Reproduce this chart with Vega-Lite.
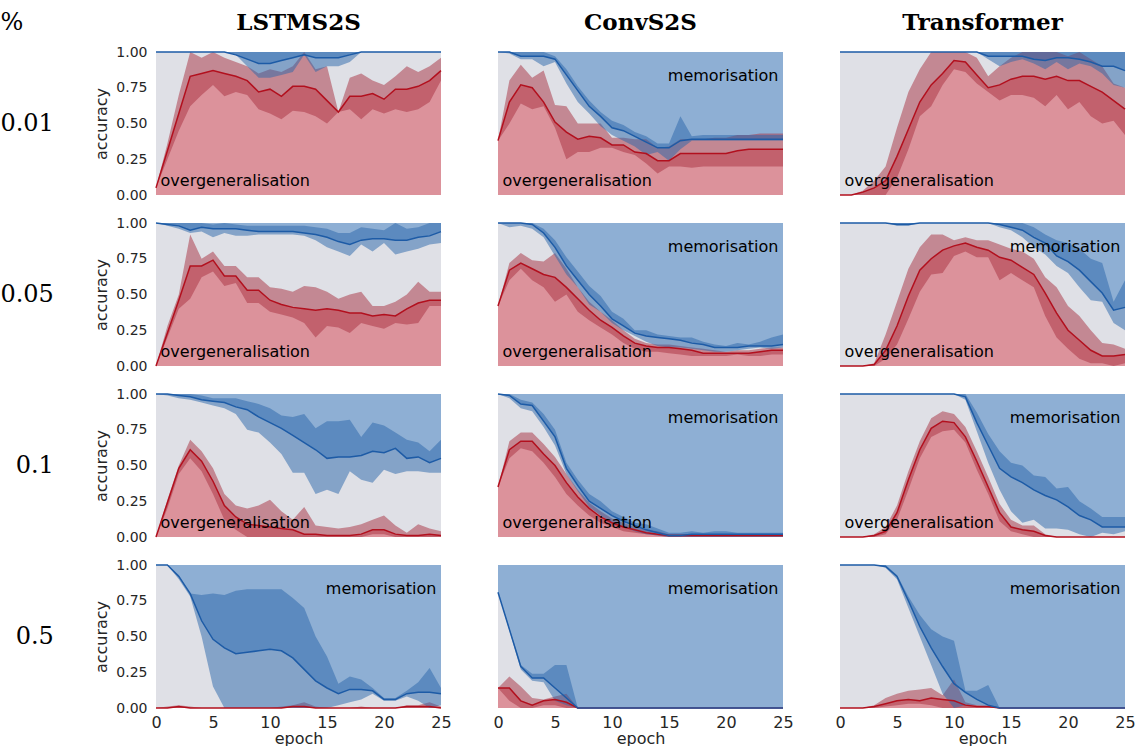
{
"$schema": "https://vega.github.io/schema/vega-lite/v6.json",
"padding": {"left": 0, "top": 11, "right": 0, "bottom": 0},
"background": "white",
"title": {"text": "%", "anchor": "start", "frame": "bounds", "offset": -23, "font": "DejaVu Serif", "fontSize": 24, "fontWeight": "normal", "color": "black"},
"data": {"values": [
{"m":"LSTMS2S","p":"0.01","e":0,"ov":0.05,"ol":0.05,"oh":0.05,"mv":1,"ml":1,"mh":1},
{"m":"LSTMS2S","p":"0.01","e":1,"ov":0.31,"ol":0.25,"oh":0.36,"mv":1,"ml":1,"mh":1},
{"m":"LSTMS2S","p":"0.01","e":2,"ov":0.57,"ol":0.45,"oh":0.7,"mv":1,"ml":1,"mh":1},
{"m":"LSTMS2S","p":"0.01","e":3,"ov":0.83,"ol":0.62,"oh":1.0,"mv":1,"ml":1,"mh":1},
{"m":"LSTMS2S","p":"0.01","e":4,"ov":0.85,"ol":0.7,"oh":0.96,"mv":1,"ml":1,"mh":1},
{"m":"LSTMS2S","p":"0.01","e":5,"ov":0.87,"ol":0.77,"oh":1.0,"mv":1,"ml":1,"mh":1},
{"m":"LSTMS2S","p":"0.01","e":6,"ov":0.85,"ol":0.69,"oh":0.96,"mv":1,"ml":1,"mh":1},
{"m":"LSTMS2S","p":"0.01","e":7,"ov":0.83,"ol":0.72,"oh":0.93,"mv":0.98,"ml":0.98,"mh":1},
{"m":"LSTMS2S","p":"0.01","e":8,"ov":0.8,"ol":0.7,"oh":0.9,"mv":0.95,"ml":0.9,"mh":1},
{"m":"LSTMS2S","p":"0.01","e":9,"ov":0.72,"ol":0.6,"oh":0.85,"mv":0.92,"ml":0.82,"mh":1},
{"m":"LSTMS2S","p":"0.01","e":10,"ov":0.74,"ol":0.57,"oh":0.88,"mv":0.92,"ml":0.82,"mh":1},
{"m":"LSTMS2S","p":"0.01","e":11,"ov":0.69,"ol":0.53,"oh":0.86,"mv":0.94,"ml":0.84,"mh":1},
{"m":"LSTMS2S","p":"0.01","e":12,"ov":0.76,"ol":0.59,"oh":0.9,"mv":0.96,"ml":0.86,"mh":1},
{"m":"LSTMS2S","p":"0.01","e":13,"ov":0.76,"ol":0.58,"oh":1.0,"mv":0.98,"ml":0.98,"mh":1},
{"m":"LSTMS2S","p":"0.01","e":14,"ov":0.74,"ol":0.55,"oh":0.88,"mv":0.96,"ml":0.86,"mh":1},
{"m":"LSTMS2S","p":"0.01","e":15,"ov":0.66,"ol":0.5,"oh":0.9,"mv":0.96,"ml":0.9,"mh":1},
{"m":"LSTMS2S","p":"0.01","e":16,"ov":0.58,"ol":0.58,"oh":0.58,"mv":0.96,"ml":0.9,"mh":1},
{"m":"LSTMS2S","p":"0.01","e":17,"ov":0.69,"ol":0.6,"oh":0.82,"mv":0.98,"ml":0.93,"mh":1},
{"m":"LSTMS2S","p":"0.01","e":18,"ov":0.69,"ol":0.53,"oh":0.85,"mv":1,"ml":1,"mh":1},
{"m":"LSTMS2S","p":"0.01","e":19,"ov":0.71,"ol":0.6,"oh":0.8,"mv":1,"ml":1,"mh":1},
{"m":"LSTMS2S","p":"0.01","e":20,"ov":0.67,"ol":0.57,"oh":0.77,"mv":1,"ml":1,"mh":1},
{"m":"LSTMS2S","p":"0.01","e":21,"ov":0.74,"ol":0.6,"oh":0.83,"mv":1,"ml":1,"mh":1},
{"m":"LSTMS2S","p":"0.01","e":22,"ov":0.74,"ol":0.58,"oh":0.9,"mv":1,"ml":1,"mh":1},
{"m":"LSTMS2S","p":"0.01","e":23,"ov":0.76,"ol":0.6,"oh":0.86,"mv":1,"ml":1,"mh":1},
{"m":"LSTMS2S","p":"0.01","e":24,"ov":0.8,"ol":0.65,"oh":0.9,"mv":1,"ml":1,"mh":1},
{"m":"LSTMS2S","p":"0.01","e":25,"ov":0.87,"ol":0.8,"oh":0.96,"mv":1,"ml":1,"mh":1},
{"m":"ConvS2S","p":"0.01","e":0,"ov":0.38,"ol":0.38,"oh":0.38,"mv":1,"ml":1,"mh":1},
{"m":"ConvS2S","p":"0.01","e":1,"ov":0.65,"ol":0.5,"oh":0.8,"mv":1,"ml":0.99,"mh":1},
{"m":"ConvS2S","p":"0.01","e":2,"ov":0.77,"ol":0.64,"oh":0.91,"mv":0.97,"ml":0.95,"mh":1},
{"m":"ConvS2S","p":"0.01","e":3,"ov":0.75,"ol":0.6,"oh":0.82,"mv":0.97,"ml":0.95,"mh":1},
{"m":"ConvS2S","p":"0.01","e":4,"ov":0.65,"ol":0.62,"oh":0.87,"mv":0.97,"ml":0.9,"mh":1},
{"m":"ConvS2S","p":"0.01","e":5,"ov":0.51,"ol":0.47,"oh":0.63,"mv":0.95,"ml":0.93,"mh":0.97},
{"m":"ConvS2S","p":"0.01","e":6,"ov":0.44,"ol":0.25,"oh":0.62,"mv":0.84,"ml":0.78,"mh":0.88},
{"m":"ConvS2S","p":"0.01","e":7,"ov":0.39,"ol":0.3,"oh":0.5,"mv":0.73,"ml":0.65,"mh":0.76},
{"m":"ConvS2S","p":"0.01","e":8,"ov":0.41,"ol":0.3,"oh":0.5,"mv":0.62,"ml":0.57,"mh":0.66},
{"m":"ConvS2S","p":"0.01","e":9,"ov":0.4,"ol":0.33,"oh":0.5,"mv":0.55,"ml":0.48,"mh":0.58},
{"m":"ConvS2S","p":"0.01","e":10,"ov":0.35,"ol":0.33,"oh":0.4,"mv":0.47,"ml":0.42,"mh":0.52},
{"m":"ConvS2S","p":"0.01","e":11,"ov":0.35,"ol":0.3,"oh":0.4,"mv":0.45,"ml":0.38,"mh":0.49},
{"m":"ConvS2S","p":"0.01","e":12,"ov":0.3,"ol":0.28,"oh":0.39,"mv":0.41,"ml":0.34,"mh":0.44},
{"m":"ConvS2S","p":"0.01","e":13,"ov":0.29,"ol":0.22,"oh":0.39,"mv":0.37,"ml":0.28,"mh":0.41},
{"m":"ConvS2S","p":"0.01","e":14,"ov":0.24,"ol":0.15,"oh":0.33,"mv":0.33,"ml":0.3,"mh":0.36},
{"m":"ConvS2S","p":"0.01","e":15,"ov":0.24,"ol":0.2,"oh":0.34,"mv":0.33,"ml":0.24,"mh":0.36},
{"m":"ConvS2S","p":"0.01","e":16,"ov":0.29,"ol":0.2,"oh":0.39,"mv":0.38,"ml":0.32,"mh":0.55},
{"m":"ConvS2S","p":"0.01","e":17,"ov":0.29,"ol":0.19,"oh":0.39,"mv":0.39,"ml":0.38,"mh":0.41},
{"m":"ConvS2S","p":"0.01","e":18,"ov":0.29,"ol":0.2,"oh":0.39,"mv":0.39,"ml":0.38,"mh":0.42},
{"m":"ConvS2S","p":"0.01","e":19,"ov":0.29,"ol":0.2,"oh":0.4,"mv":0.39,"ml":0.38,"mh":0.42},
{"m":"ConvS2S","p":"0.01","e":20,"ov":0.29,"ol":0.2,"oh":0.4,"mv":0.39,"ml":0.38,"mh":0.42},
{"m":"ConvS2S","p":"0.01","e":21,"ov":0.31,"ol":0.2,"oh":0.42,"mv":0.39,"ml":0.38,"mh":0.42},
{"m":"ConvS2S","p":"0.01","e":22,"ov":0.32,"ol":0.2,"oh":0.42,"mv":0.39,"ml":0.38,"mh":0.42},
{"m":"ConvS2S","p":"0.01","e":23,"ov":0.32,"ol":0.2,"oh":0.43,"mv":0.39,"ml":0.38,"mh":0.42},
{"m":"ConvS2S","p":"0.01","e":24,"ov":0.32,"ol":0.2,"oh":0.43,"mv":0.39,"ml":0.38,"mh":0.42},
{"m":"ConvS2S","p":"0.01","e":25,"ov":0.32,"ol":0.2,"oh":0.43,"mv":0.39,"ml":0.38,"mh":0.42},
{"m":"Transformer","p":"0.01","e":0,"ov":0,"ol":0,"oh":0,"mv":1,"ml":1,"mh":1},
{"m":"Transformer","p":"0.01","e":1,"ov":0,"ol":0,"oh":0,"mv":1,"ml":1,"mh":1},
{"m":"Transformer","p":"0.01","e":2,"ov":0.02,"ol":0,"oh":0.03,"mv":1,"ml":1,"mh":1},
{"m":"Transformer","p":"0.01","e":3,"ov":0.05,"ol":0,"oh":0.1,"mv":1,"ml":1,"mh":1},
{"m":"Transformer","p":"0.01","e":4,"ov":0.1,"ol":0,"oh":0.2,"mv":1,"ml":1,"mh":1},
{"m":"Transformer","p":"0.01","e":5,"ov":0.27,"ol":0.12,"oh":0.47,"mv":1,"ml":1,"mh":1},
{"m":"Transformer","p":"0.01","e":6,"ov":0.46,"ol":0.32,"oh":0.72,"mv":1,"ml":1,"mh":1},
{"m":"Transformer","p":"0.01","e":7,"ov":0.65,"ol":0.55,"oh":0.88,"mv":1,"ml":1,"mh":1},
{"m":"Transformer","p":"0.01","e":8,"ov":0.77,"ol":0.62,"oh":1.0,"mv":1,"ml":1,"mh":1},
{"m":"Transformer","p":"0.01","e":9,"ov":0.85,"ol":0.77,"oh":1.0,"mv":1,"ml":1,"mh":1},
{"m":"Transformer","p":"0.01","e":10,"ov":0.94,"ol":0.88,"oh":1.0,"mv":1,"ml":1,"mh":1},
{"m":"Transformer","p":"0.01","e":11,"ov":0.93,"ol":0.86,"oh":1.0,"mv":1,"ml":1,"mh":1},
{"m":"Transformer","p":"0.01","e":12,"ov":0.84,"ol":0.78,"oh":0.96,"mv":1,"ml":1,"mh":1},
{"m":"Transformer","p":"0.01","e":13,"ov":0.75,"ol":0.72,"oh":0.83,"mv":0.97,"ml":0.95,"mh":1},
{"m":"Transformer","p":"0.01","e":14,"ov":0.77,"ol":0.66,"oh":0.9,"mv":0.97,"ml":0.9,"mh":1},
{"m":"Transformer","p":"0.01","e":15,"ov":0.81,"ol":0.7,"oh":0.96,"mv":0.97,"ml":0.93,"mh":1},
{"m":"Transformer","p":"0.01","e":16,"ov":0.83,"ol":0.7,"oh":1.0,"mv":0.97,"ml":0.95,"mh":1},
{"m":"Transformer","p":"0.01","e":17,"ov":0.83,"ol":0.68,"oh":1.0,"mv":0.95,"ml":0.92,"mh":1},
{"m":"Transformer","p":"0.01","e":18,"ov":0.81,"ol":0.62,"oh":1.0,"mv":0.94,"ml":0.88,"mh":1},
{"m":"Transformer","p":"0.01","e":19,"ov":0.83,"ol":0.7,"oh":1.0,"mv":0.96,"ml":0.93,"mh":1},
{"m":"Transformer","p":"0.01","e":20,"ov":0.8,"ol":0.6,"oh":0.97,"mv":0.96,"ml":0.88,"mh":1},
{"m":"Transformer","p":"0.01","e":21,"ov":0.8,"ol":0.65,"oh":1.0,"mv":0.95,"ml":0.92,"mh":1},
{"m":"Transformer","p":"0.01","e":22,"ov":0.76,"ol":0.55,"oh":0.95,"mv":0.93,"ml":0.9,"mh":1},
{"m":"Transformer","p":"0.01","e":23,"ov":0.72,"ol":0.5,"oh":0.9,"mv":0.9,"ml":0.85,"mh":1},
{"m":"Transformer","p":"0.01","e":24,"ov":0.66,"ol":0.52,"oh":0.78,"mv":0.9,"ml":0.77,"mh":1},
{"m":"Transformer","p":"0.01","e":25,"ov":0.6,"ol":0.42,"oh":0.75,"mv":0.87,"ml":0.75,"mh":1},
{"m":"LSTMS2S","p":"0.05","e":0,"ov":0,"ol":0,"oh":0,"mv":1,"ml":1,"mh":1},
{"m":"LSTMS2S","p":"0.05","e":1,"ov":0.23,"ol":0.2,"oh":0.28,"mv":0.99,"ml":0.98,"mh":1},
{"m":"LSTMS2S","p":"0.05","e":2,"ov":0.46,"ol":0.4,"oh":0.5,"mv":0.98,"ml":0.96,"mh":1},
{"m":"LSTMS2S","p":"0.05","e":3,"ov":0.7,"ol":0.47,"oh":0.92,"mv":0.95,"ml":0.93,"mh":1},
{"m":"LSTMS2S","p":"0.05","e":4,"ov":0.7,"ol":0.62,"oh":0.75,"mv":0.97,"ml":0.94,"mh":1},
{"m":"LSTMS2S","p":"0.05","e":5,"ov":0.74,"ol":0.66,"oh":0.8,"mv":0.96,"ml":0.9,"mh":0.99},
{"m":"LSTMS2S","p":"0.05","e":6,"ov":0.63,"ol":0.56,"oh":0.7,"mv":0.96,"ml":0.93,"mh":1},
{"m":"LSTMS2S","p":"0.05","e":7,"ov":0.63,"ol":0.58,"oh":0.7,"mv":0.96,"ml":0.91,"mh":0.99},
{"m":"LSTMS2S","p":"0.05","e":8,"ov":0.53,"ol":0.44,"oh":0.62,"mv":0.95,"ml":0.91,"mh":0.98},
{"m":"LSTMS2S","p":"0.05","e":9,"ov":0.53,"ol":0.44,"oh":0.62,"mv":0.94,"ml":0.92,"mh":0.98},
{"m":"LSTMS2S","p":"0.05","e":10,"ov":0.46,"ol":0.38,"oh":0.55,"mv":0.94,"ml":0.92,"mh":0.98},
{"m":"LSTMS2S","p":"0.05","e":11,"ov":0.43,"ol":0.36,"oh":0.54,"mv":0.94,"ml":0.92,"mh":0.98},
{"m":"LSTMS2S","p":"0.05","e":12,"ov":0.41,"ol":0.34,"oh":0.52,"mv":0.94,"ml":0.92,"mh":0.98},
{"m":"LSTMS2S","p":"0.05","e":13,"ov":0.4,"ol":0.3,"oh":0.56,"mv":0.93,"ml":0.91,"mh":0.98},
{"m":"LSTMS2S","p":"0.05","e":14,"ov":0.39,"ol":0.2,"oh":0.55,"mv":0.92,"ml":0.88,"mh":0.97},
{"m":"LSTMS2S","p":"0.05","e":15,"ov":0.4,"ol":0.28,"oh":0.52,"mv":0.9,"ml":0.83,"mh":0.96},
{"m":"LSTMS2S","p":"0.05","e":16,"ov":0.39,"ol":0.27,"oh":0.47,"mv":0.87,"ml":0.8,"mh":0.93},
{"m":"LSTMS2S","p":"0.05","e":17,"ov":0.37,"ol":0.23,"oh":0.5,"mv":0.85,"ml":0.77,"mh":0.93},
{"m":"LSTMS2S","p":"0.05","e":18,"ov":0.37,"ol":0.3,"oh":0.52,"mv":0.88,"ml":0.85,"mh":0.97},
{"m":"LSTMS2S","p":"0.05","e":19,"ov":0.35,"ol":0.28,"oh":0.42,"mv":0.89,"ml":0.8,"mh":0.96},
{"m":"LSTMS2S","p":"0.05","e":20,"ov":0.36,"ol":0.26,"oh":0.42,"mv":0.89,"ml":0.86,"mh":0.95},
{"m":"LSTMS2S","p":"0.05","e":21,"ov":0.35,"ol":0.3,"oh":0.45,"mv":0.88,"ml":0.78,"mh":1},
{"m":"LSTMS2S","p":"0.05","e":22,"ov":0.4,"ol":0.29,"oh":0.5,"mv":0.88,"ml":0.8,"mh":0.96},
{"m":"LSTMS2S","p":"0.05","e":23,"ov":0.44,"ol":0.3,"oh":0.59,"mv":0.9,"ml":0.82,"mh":0.97},
{"m":"LSTMS2S","p":"0.05","e":24,"ov":0.46,"ol":0.42,"oh":0.52,"mv":0.91,"ml":0.85,"mh":1},
{"m":"LSTMS2S","p":"0.05","e":25,"ov":0.46,"ol":0.42,"oh":0.52,"mv":0.94,"ml":0.86,"mh":1},
{"m":"ConvS2S","p":"0.05","e":0,"ov":0.42,"ol":0.42,"oh":0.42,"mv":1,"ml":1,"mh":1},
{"m":"ConvS2S","p":"0.05","e":1,"ov":0.67,"ol":0.6,"oh":0.72,"mv":1,"ml":0.97,"mh":1},
{"m":"ConvS2S","p":"0.05","e":2,"ov":0.72,"ol":0.68,"oh":0.79,"mv":1,"ml":0.98,"mh":1},
{"m":"ConvS2S","p":"0.05","e":3,"ov":0.68,"ol":0.6,"oh":0.74,"mv":0.99,"ml":0.96,"mh":1},
{"m":"ConvS2S","p":"0.05","e":4,"ov":0.64,"ol":0.55,"oh":0.73,"mv":0.93,"ml":0.9,"mh":0.96},
{"m":"ConvS2S","p":"0.05","e":5,"ov":0.62,"ol":0.45,"oh":0.79,"mv":0.83,"ml":0.77,"mh":0.88},
{"m":"ConvS2S","p":"0.05","e":6,"ov":0.55,"ol":0.5,"oh":0.68,"mv":0.7,"ml":0.64,"mh":0.76},
{"m":"ConvS2S","p":"0.05","e":7,"ov":0.47,"ol":0.38,"oh":0.55,"mv":0.6,"ml":0.55,"mh":0.66},
{"m":"ConvS2S","p":"0.05","e":8,"ov":0.39,"ol":0.32,"oh":0.45,"mv":0.5,"ml":0.43,"mh":0.56},
{"m":"ConvS2S","p":"0.05","e":9,"ov":0.32,"ol":0.27,"oh":0.38,"mv":0.42,"ml":0.38,"mh":0.49},
{"m":"ConvS2S","p":"0.05","e":10,"ov":0.27,"ol":0.22,"oh":0.32,"mv":0.33,"ml":0.3,"mh":0.38},
{"m":"ConvS2S","p":"0.05","e":11,"ov":0.21,"ol":0.16,"oh":0.25,"mv":0.28,"ml":0.25,"mh":0.33},
{"m":"ConvS2S","p":"0.05","e":12,"ov":0.16,"ol":0.12,"oh":0.19,"mv":0.23,"ml":0.21,"mh":0.25},
{"m":"ConvS2S","p":"0.05","e":13,"ov":0.14,"ol":0.1,"oh":0.16,"mv":0.21,"ml":0.17,"mh":0.25},
{"m":"ConvS2S","p":"0.05","e":14,"ov":0.13,"ol":0.1,"oh":0.15,"mv":0.2,"ml":0.14,"mh":0.22},
{"m":"ConvS2S","p":"0.05","e":15,"ov":0.13,"ol":0.09,"oh":0.15,"mv":0.19,"ml":0.13,"mh":0.21},
{"m":"ConvS2S","p":"0.05","e":16,"ov":0.12,"ol":0.08,"oh":0.14,"mv":0.18,"ml":0.13,"mh":0.2},
{"m":"ConvS2S","p":"0.05","e":17,"ov":0.11,"ol":0.07,"oh":0.13,"mv":0.16,"ml":0.12,"mh":0.2},
{"m":"ConvS2S","p":"0.05","e":18,"ov":0.09,"ol":0.07,"oh":0.12,"mv":0.15,"ml":0.11,"mh":0.17},
{"m":"ConvS2S","p":"0.05","e":19,"ov":0.09,"ol":0.07,"oh":0.11,"mv":0.13,"ml":0.1,"mh":0.15},
{"m":"ConvS2S","p":"0.05","e":20,"ov":0.09,"ol":0.07,"oh":0.1,"mv":0.13,"ml":0.1,"mh":0.14},
{"m":"ConvS2S","p":"0.05","e":21,"ov":0.09,"ol":0.08,"oh":0.11,"mv":0.13,"ml":0.11,"mh":0.16},
{"m":"ConvS2S","p":"0.05","e":22,"ov":0.09,"ol":0.07,"oh":0.11,"mv":0.14,"ml":0.12,"mh":0.15},
{"m":"ConvS2S","p":"0.05","e":23,"ov":0.1,"ol":0.07,"oh":0.12,"mv":0.14,"ml":0.13,"mh":0.17},
{"m":"ConvS2S","p":"0.05","e":24,"ov":0.11,"ol":0.08,"oh":0.13,"mv":0.14,"ml":0.12,"mh":0.2},
{"m":"ConvS2S","p":"0.05","e":25,"ov":0.11,"ol":0.08,"oh":0.13,"mv":0.15,"ml":0.13,"mh":0.22},
{"m":"Transformer","p":"0.05","e":0,"ov":0,"ol":0,"oh":0,"mv":1,"ml":1,"mh":1},
{"m":"Transformer","p":"0.05","e":1,"ov":0,"ol":0,"oh":0,"mv":1,"ml":1,"mh":1},
{"m":"Transformer","p":"0.05","e":2,"ov":0,"ol":0,"oh":0,"mv":1,"ml":1,"mh":1},
{"m":"Transformer","p":"0.05","e":3,"ov":0.01,"ol":0,"oh":0.02,"mv":1,"ml":1,"mh":1},
{"m":"Transformer","p":"0.05","e":4,"ov":0.11,"ol":0.05,"oh":0.22,"mv":1,"ml":1,"mh":1},
{"m":"Transformer","p":"0.05","e":5,"ov":0.28,"ol":0.15,"oh":0.45,"mv":0.99,"ml":0.98,"mh":1},
{"m":"Transformer","p":"0.05","e":6,"ov":0.49,"ol":0.33,"oh":0.68,"mv":0.99,"ml":0.98,"mh":1},
{"m":"Transformer","p":"0.05","e":7,"ov":0.67,"ol":0.52,"oh":0.83,"mv":1,"ml":1,"mh":1},
{"m":"Transformer","p":"0.05","e":8,"ov":0.75,"ol":0.64,"oh":0.92,"mv":1,"ml":1,"mh":1},
{"m":"Transformer","p":"0.05","e":9,"ov":0.81,"ol":0.65,"oh":0.92,"mv":1,"ml":1,"mh":1},
{"m":"Transformer","p":"0.05","e":10,"ov":0.84,"ol":0.77,"oh":0.88,"mv":1,"ml":1,"mh":1},
{"m":"Transformer","p":"0.05","e":11,"ov":0.86,"ol":0.8,"oh":0.9,"mv":1,"ml":1,"mh":1},
{"m":"Transformer","p":"0.05","e":12,"ov":0.83,"ol":0.76,"oh":0.88,"mv":1,"ml":1,"mh":1},
{"m":"Transformer","p":"0.05","e":13,"ov":0.81,"ol":0.76,"oh":0.88,"mv":1,"ml":1,"mh":1},
{"m":"Transformer","p":"0.05","e":14,"ov":0.76,"ol":0.6,"oh":0.85,"mv":0.99,"ml":0.97,"mh":1},
{"m":"Transformer","p":"0.05","e":15,"ov":0.74,"ol":0.65,"oh":0.82,"mv":0.97,"ml":0.95,"mh":1},
{"m":"Transformer","p":"0.05","e":16,"ov":0.69,"ol":0.6,"oh":0.8,"mv":0.95,"ml":0.9,"mh":1},
{"m":"Transformer","p":"0.05","e":17,"ov":0.64,"ol":0.55,"oh":0.75,"mv":0.9,"ml":0.83,"mh":0.97},
{"m":"Transformer","p":"0.05","e":18,"ov":0.51,"ol":0.35,"oh":0.62,"mv":0.86,"ml":0.78,"mh":0.92},
{"m":"Transformer","p":"0.05","e":19,"ov":0.37,"ol":0.2,"oh":0.55,"mv":0.77,"ml":0.7,"mh":0.88},
{"m":"Transformer","p":"0.05","e":20,"ov":0.25,"ol":0.12,"oh":0.42,"mv":0.73,"ml":0.65,"mh":0.86},
{"m":"Transformer","p":"0.05","e":21,"ov":0.18,"ol":0.05,"oh":0.35,"mv":0.67,"ml":0.55,"mh":0.82},
{"m":"Transformer","p":"0.05","e":22,"ov":0.11,"ol":0.02,"oh":0.25,"mv":0.59,"ml":0.46,"mh":0.75},
{"m":"Transformer","p":"0.05","e":23,"ov":0.07,"ol":0.02,"oh":0.16,"mv":0.51,"ml":0.45,"mh":0.72},
{"m":"Transformer","p":"0.05","e":24,"ov":0.07,"ol":0,"oh":0.15,"mv":0.39,"ml":0.3,"mh":0.45},
{"m":"Transformer","p":"0.05","e":25,"ov":0.08,"ol":0.02,"oh":0.12,"mv":0.41,"ml":0.25,"mh":0.6},
{"m":"LSTMS2S","p":"0.1","e":0,"ov":0,"ol":0,"oh":0,"mv":1,"ml":1,"mh":1},
{"m":"LSTMS2S","p":"0.1","e":1,"ov":0.24,"ol":0.2,"oh":0.26,"mv":1,"ml":0.99,"mh":1},
{"m":"LSTMS2S","p":"0.1","e":2,"ov":0.48,"ol":0.44,"oh":0.5,"mv":0.99,"ml":0.97,"mh":1},
{"m":"LSTMS2S","p":"0.1","e":3,"ov":0.61,"ol":0.55,"oh":0.68,"mv":0.98,"ml":0.96,"mh":1},
{"m":"LSTMS2S","p":"0.1","e":4,"ov":0.53,"ol":0.46,"oh":0.6,"mv":0.96,"ml":0.94,"mh":0.99},
{"m":"LSTMS2S","p":"0.1","e":5,"ov":0.39,"ol":0.3,"oh":0.48,"mv":0.95,"ml":0.92,"mh":0.97},
{"m":"LSTMS2S","p":"0.1","e":6,"ov":0.22,"ol":0.12,"oh":0.3,"mv":0.94,"ml":0.9,"mh":0.97},
{"m":"LSTMS2S","p":"0.1","e":7,"ov":0.14,"ol":0.05,"oh":0.22,"mv":0.91,"ml":0.86,"mh":0.97},
{"m":"LSTMS2S","p":"0.1","e":8,"ov":0.09,"ol":0,"oh":0.2,"mv":0.89,"ml":0.75,"mh":0.95},
{"m":"LSTMS2S","p":"0.1","e":9,"ov":0.08,"ol":0,"oh":0.22,"mv":0.84,"ml":0.73,"mh":0.93},
{"m":"LSTMS2S","p":"0.1","e":10,"ov":0.07,"ol":0,"oh":0.26,"mv":0.8,"ml":0.66,"mh":0.9},
{"m":"LSTMS2S","p":"0.1","e":11,"ov":0.06,"ol":0,"oh":0.18,"mv":0.76,"ml":0.58,"mh":0.85},
{"m":"LSTMS2S","p":"0.1","e":12,"ov":0.05,"ol":0,"oh":0.12,"mv":0.71,"ml":0.45,"mh":0.84},
{"m":"LSTMS2S","p":"0.1","e":13,"ov":0.02,"ol":0,"oh":0.21,"mv":0.66,"ml":0.45,"mh":0.86},
{"m":"LSTMS2S","p":"0.1","e":14,"ov":0.02,"ol":0,"oh":0.08,"mv":0.61,"ml":0.3,"mh":0.76},
{"m":"LSTMS2S","p":"0.1","e":15,"ov":0.01,"ol":0,"oh":0.07,"mv":0.55,"ml":0.33,"mh":0.81},
{"m":"LSTMS2S","p":"0.1","e":16,"ov":0.01,"ol":0,"oh":0.06,"mv":0.56,"ml":0.3,"mh":0.81},
{"m":"LSTMS2S","p":"0.1","e":17,"ov":0.01,"ol":0,"oh":0.07,"mv":0.56,"ml":0.46,"mh":0.82},
{"m":"LSTMS2S","p":"0.1","e":18,"ov":0.02,"ol":0,"oh":0.09,"mv":0.57,"ml":0.4,"mh":0.7},
{"m":"LSTMS2S","p":"0.1","e":19,"ov":0.05,"ol":0.02,"oh":0.12,"mv":0.6,"ml":0.38,"mh":0.8},
{"m":"LSTMS2S","p":"0.1","e":20,"ov":0.05,"ol":0.02,"oh":0.15,"mv":0.59,"ml":0.47,"mh":0.78},
{"m":"LSTMS2S","p":"0.1","e":21,"ov":0.02,"ol":0,"oh":0.08,"mv":0.62,"ml":0.44,"mh":0.73},
{"m":"LSTMS2S","p":"0.1","e":22,"ov":0.01,"ol":0,"oh":0.03,"mv":0.55,"ml":0.46,"mh":0.68},
{"m":"LSTMS2S","p":"0.1","e":23,"ov":0.01,"ol":0,"oh":0.09,"mv":0.56,"ml":0.46,"mh":0.66},
{"m":"LSTMS2S","p":"0.1","e":24,"ov":0.02,"ol":0,"oh":0.06,"mv":0.52,"ml":0.45,"mh":0.6},
{"m":"LSTMS2S","p":"0.1","e":25,"ov":0.01,"ol":0,"oh":0.04,"mv":0.55,"ml":0.45,"mh":0.68},
{"m":"ConvS2S","p":"0.1","e":0,"ov":0.35,"ol":0.35,"oh":0.35,"mv":1,"ml":1,"mh":1},
{"m":"ConvS2S","p":"0.1","e":1,"ov":0.61,"ol":0.55,"oh":0.67,"mv":0.99,"ml":0.97,"mh":1},
{"m":"ConvS2S","p":"0.1","e":2,"ov":0.67,"ol":0.62,"oh":0.73,"mv":0.93,"ml":0.9,"mh":0.96},
{"m":"ConvS2S","p":"0.1","e":3,"ov":0.67,"ol":0.6,"oh":0.73,"mv":0.92,"ml":0.88,"mh":0.94},
{"m":"ConvS2S","p":"0.1","e":4,"ov":0.58,"ol":0.52,"oh":0.65,"mv":0.81,"ml":0.77,"mh":0.86},
{"m":"ConvS2S","p":"0.1","e":5,"ov":0.5,"ol":0.42,"oh":0.56,"mv":0.7,"ml":0.64,"mh":0.75},
{"m":"ConvS2S","p":"0.1","e":6,"ov":0.38,"ol":0.3,"oh":0.44,"mv":0.48,"ml":0.44,"mh":0.52},
{"m":"ConvS2S","p":"0.1","e":7,"ov":0.28,"ol":0.22,"oh":0.33,"mv":0.36,"ml":0.32,"mh":0.4},
{"m":"ConvS2S","p":"0.1","e":8,"ov":0.2,"ol":0.15,"oh":0.24,"mv":0.25,"ml":0.21,"mh":0.3},
{"m":"ConvS2S","p":"0.1","e":9,"ov":0.14,"ol":0.1,"oh":0.18,"mv":0.2,"ml":0.15,"mh":0.25},
{"m":"ConvS2S","p":"0.1","e":10,"ov":0.1,"ol":0.07,"oh":0.13,"mv":0.15,"ml":0.1,"mh":0.18},
{"m":"ConvS2S","p":"0.1","e":11,"ov":0.07,"ol":0.04,"oh":0.1,"mv":0.11,"ml":0.07,"mh":0.14},
{"m":"ConvS2S","p":"0.1","e":12,"ov":0.05,"ol":0.03,"oh":0.07,"mv":0.08,"ml":0.04,"mh":0.1},
{"m":"ConvS2S","p":"0.1","e":13,"ov":0.03,"ol":0.02,"oh":0.05,"mv":0.05,"ml":0.02,"mh":0.09},
{"m":"ConvS2S","p":"0.1","e":14,"ov":0.02,"ol":0.01,"oh":0.04,"mv":0.03,"ml":0.01,"mh":0.06},
{"m":"ConvS2S","p":"0.1","e":15,"ov":0.01,"ol":0,"oh":0.02,"mv":0.01,"ml":0,"mh":0.03},
{"m":"ConvS2S","p":"0.1","e":16,"ov":0.01,"ol":0,"oh":0.02,"mv":0.01,"ml":0,"mh":0.03},
{"m":"ConvS2S","p":"0.1","e":17,"ov":0.01,"ol":0,"oh":0.02,"mv":0.02,"ml":0,"mh":0.04},
{"m":"ConvS2S","p":"0.1","e":18,"ov":0.01,"ol":0,"oh":0.02,"mv":0.02,"ml":0,"mh":0.03},
{"m":"ConvS2S","p":"0.1","e":19,"ov":0.01,"ol":0,"oh":0.02,"mv":0.02,"ml":0,"mh":0.04},
{"m":"ConvS2S","p":"0.1","e":20,"ov":0.01,"ol":0,"oh":0.02,"mv":0.02,"ml":0,"mh":0.04},
{"m":"ConvS2S","p":"0.1","e":21,"ov":0.01,"ol":0,"oh":0.02,"mv":0.02,"ml":0,"mh":0.03},
{"m":"ConvS2S","p":"0.1","e":22,"ov":0.01,"ol":0,"oh":0.02,"mv":0.02,"ml":0,"mh":0.03},
{"m":"ConvS2S","p":"0.1","e":23,"ov":0.01,"ol":0,"oh":0.02,"mv":0.02,"ml":0,"mh":0.03},
{"m":"ConvS2S","p":"0.1","e":24,"ov":0.01,"ol":0,"oh":0.02,"mv":0.02,"ml":0,"mh":0.03},
{"m":"ConvS2S","p":"0.1","e":25,"ov":0.01,"ol":0,"oh":0.02,"mv":0.02,"ml":0,"mh":0.03},
{"m":"Transformer","p":"0.1","e":0,"ov":0,"ol":0,"oh":0,"mv":1,"ml":1,"mh":1},
{"m":"Transformer","p":"0.1","e":1,"ov":0,"ol":0,"oh":0,"mv":1,"ml":1,"mh":1},
{"m":"Transformer","p":"0.1","e":2,"ov":0,"ol":0,"oh":0,"mv":1,"ml":1,"mh":1},
{"m":"Transformer","p":"0.1","e":3,"ov":0.01,"ol":0,"oh":0.02,"mv":1,"ml":1,"mh":1},
{"m":"Transformer","p":"0.1","e":4,"ov":0.04,"ol":0.02,"oh":0.07,"mv":1,"ml":1,"mh":1},
{"m":"Transformer","p":"0.1","e":5,"ov":0.17,"ol":0.12,"oh":0.22,"mv":1,"ml":1,"mh":1},
{"m":"Transformer","p":"0.1","e":6,"ov":0.4,"ol":0.33,"oh":0.46,"mv":1,"ml":1,"mh":1},
{"m":"Transformer","p":"0.1","e":7,"ov":0.61,"ol":0.55,"oh":0.67,"mv":1,"ml":1,"mh":1},
{"m":"Transformer","p":"0.1","e":8,"ov":0.76,"ol":0.7,"oh":0.83,"mv":1,"ml":1,"mh":1},
{"m":"Transformer","p":"0.1","e":9,"ov":0.81,"ol":0.74,"oh":0.88,"mv":1,"ml":1,"mh":1},
{"m":"Transformer","p":"0.1","e":10,"ov":0.8,"ol":0.75,"oh":0.86,"mv":1,"ml":1,"mh":1},
{"m":"Transformer","p":"0.1","e":11,"ov":0.7,"ol":0.66,"oh":0.77,"mv":0.98,"ml":0.96,"mh":1},
{"m":"Transformer","p":"0.1","e":12,"ov":0.53,"ol":0.47,"oh":0.6,"mv":0.8,"ml":0.74,"mh":0.87},
{"m":"Transformer","p":"0.1","e":13,"ov":0.35,"ol":0.3,"oh":0.42,"mv":0.64,"ml":0.52,"mh":0.72},
{"m":"Transformer","p":"0.1","e":14,"ov":0.17,"ol":0.11,"oh":0.23,"mv":0.48,"ml":0.33,"mh":0.6},
{"m":"Transformer","p":"0.1","e":15,"ov":0.07,"ol":0.04,"oh":0.12,"mv":0.42,"ml":0.18,"mh":0.52},
{"m":"Transformer","p":"0.1","e":16,"ov":0.05,"ol":0.02,"oh":0.08,"mv":0.38,"ml":0.1,"mh":0.5},
{"m":"Transformer","p":"0.1","e":17,"ov":0.04,"ol":0,"oh":0.08,"mv":0.33,"ml":0.12,"mh":0.43},
{"m":"Transformer","p":"0.1","e":18,"ov":0.01,"ol":0,"oh":0.02,"mv":0.29,"ml":0.06,"mh":0.42},
{"m":"Transformer","p":"0.1","e":19,"ov":0,"ol":0,"oh":0,"mv":0.26,"ml":0.06,"mh":0.34},
{"m":"Transformer","p":"0.1","e":20,"ov":0,"ol":0,"oh":0,"mv":0.21,"ml":0.05,"mh":0.35},
{"m":"Transformer","p":"0.1","e":21,"ov":0,"ol":0,"oh":0,"mv":0.15,"ml":0.02,"mh":0.25},
{"m":"Transformer","p":"0.1","e":22,"ov":0,"ol":0,"oh":0,"mv":0.12,"ml":0,"mh":0.2},
{"m":"Transformer","p":"0.1","e":23,"ov":0,"ol":0,"oh":0,"mv":0.07,"ml":0.03,"mh":0.14},
{"m":"Transformer","p":"0.1","e":24,"ov":0,"ol":0,"oh":0,"mv":0.07,"ml":0.02,"mh":0.14},
{"m":"Transformer","p":"0.1","e":25,"ov":0,"ol":0,"oh":0,"mv":0.07,"ml":0.04,"mh":0.14},
{"m":"LSTMS2S","p":"0.5","e":0,"ov":0,"ol":0,"oh":0,"mv":1,"ml":1,"mh":1},
{"m":"LSTMS2S","p":"0.5","e":1,"ov":0,"ol":0,"oh":0.01,"mv":1,"ml":1,"mh":1},
{"m":"LSTMS2S","p":"0.5","e":2,"ov":0.01,"ol":0,"oh":0.02,"mv":0.92,"ml":0.9,"mh":0.93},
{"m":"LSTMS2S","p":"0.5","e":3,"ov":0,"ol":0,"oh":0.01,"mv":0.8,"ml":0.78,"mh":0.8},
{"m":"LSTMS2S","p":"0.5","e":4,"ov":0,"ol":0,"oh":0,"mv":0.61,"ml":0.5,"mh":0.79},
{"m":"LSTMS2S","p":"0.5","e":5,"ov":0,"ol":0,"oh":0,"mv":0.48,"ml":0.15,"mh":0.8},
{"m":"LSTMS2S","p":"0.5","e":6,"ov":0,"ol":0,"oh":0,"mv":0.42,"ml":0,"mh":0.79},
{"m":"LSTMS2S","p":"0.5","e":7,"ov":0,"ol":0,"oh":0,"mv":0.38,"ml":0,"mh":0.82},
{"m":"LSTMS2S","p":"0.5","e":8,"ov":0,"ol":0,"oh":0,"mv":0.39,"ml":0,"mh":0.83},
{"m":"LSTMS2S","p":"0.5","e":9,"ov":0,"ol":0,"oh":0,"mv":0.4,"ml":0,"mh":0.83},
{"m":"LSTMS2S","p":"0.5","e":10,"ov":0,"ol":0,"oh":0,"mv":0.41,"ml":0,"mh":0.83},
{"m":"LSTMS2S","p":"0.5","e":11,"ov":0,"ol":0,"oh":0.01,"mv":0.4,"ml":0,"mh":0.83},
{"m":"LSTMS2S","p":"0.5","e":12,"ov":0.01,"ol":0,"oh":0.02,"mv":0.35,"ml":0,"mh":0.77},
{"m":"LSTMS2S","p":"0.5","e":13,"ov":0.01,"ol":0,"oh":0.04,"mv":0.27,"ml":0,"mh":0.7},
{"m":"LSTMS2S","p":"0.5","e":14,"ov":0,"ol":0,"oh":0.01,"mv":0.19,"ml":0,"mh":0.5},
{"m":"LSTMS2S","p":"0.5","e":15,"ov":0,"ol":0,"oh":0,"mv":0.14,"ml":0,"mh":0.36},
{"m":"LSTMS2S","p":"0.5","e":16,"ov":0,"ol":0,"oh":0,"mv":0.1,"ml":0.02,"mh":0.17},
{"m":"LSTMS2S","p":"0.5","e":17,"ov":0,"ol":0,"oh":0,"mv":0.13,"ml":0.04,"mh":0.22},
{"m":"LSTMS2S","p":"0.5","e":18,"ov":0,"ol":0,"oh":0.01,"mv":0.13,"ml":0.06,"mh":0.2},
{"m":"LSTMS2S","p":"0.5","e":19,"ov":0,"ol":0,"oh":0,"mv":0.12,"ml":0.1,"mh":0.14},
{"m":"LSTMS2S","p":"0.5","e":20,"ov":0,"ol":0,"oh":0,"mv":0.06,"ml":0.05,"mh":0.07},
{"m":"LSTMS2S","p":"0.5","e":21,"ov":0,"ol":0,"oh":0,"mv":0.06,"ml":0.05,"mh":0.07},
{"m":"LSTMS2S","p":"0.5","e":22,"ov":0.01,"ol":0,"oh":0.02,"mv":0.1,"ml":0.08,"mh":0.12},
{"m":"LSTMS2S","p":"0.5","e":23,"ov":0.01,"ol":0,"oh":0.02,"mv":0.11,"ml":0.05,"mh":0.18},
{"m":"LSTMS2S","p":"0.5","e":24,"ov":0.01,"ol":0,"oh":0.04,"mv":0.11,"ml":0,"mh":0.28},
{"m":"LSTMS2S","p":"0.5","e":25,"ov":0,"ol":0,"oh":0.01,"mv":0.1,"ml":0.02,"mh":0.14},
{"m":"ConvS2S","p":"0.5","e":0,"ov":0.14,"ol":0.14,"oh":0.14,"mv":0.81,"ml":0.81,"mh":0.81},
{"m":"ConvS2S","p":"0.5","e":1,"ov":0.14,"ol":0.05,"oh":0.22,"mv":0.55,"ml":0.54,"mh":0.56},
{"m":"ConvS2S","p":"0.5","e":2,"ov":0.05,"ol":0,"oh":0.15,"mv":0.29,"ml":0.27,"mh":0.3},
{"m":"ConvS2S","p":"0.5","e":3,"ov":0.02,"ol":0,"oh":0.07,"mv":0.21,"ml":0.19,"mh":0.24},
{"m":"ConvS2S","p":"0.5","e":4,"ov":0.05,"ol":0.02,"oh":0.06,"mv":0.21,"ml":0.18,"mh":0.24},
{"m":"ConvS2S","p":"0.5","e":5,"ov":0.06,"ol":0.02,"oh":0.08,"mv":0.14,"ml":0.05,"mh":0.3},
{"m":"ConvS2S","p":"0.5","e":6,"ov":0.04,"ol":0,"oh":0.1,"mv":0.07,"ml":0.02,"mh":0.3},
{"m":"ConvS2S","p":"0.5","e":7,"ov":0,"ol":0,"oh":0,"mv":0,"ml":0,"mh":0},
{"m":"ConvS2S","p":"0.5","e":8,"ov":0,"ol":0,"oh":0,"mv":0,"ml":0,"mh":0},
{"m":"ConvS2S","p":"0.5","e":9,"ov":0,"ol":0,"oh":0,"mv":0,"ml":0,"mh":0},
{"m":"ConvS2S","p":"0.5","e":10,"ov":0,"ol":0,"oh":0,"mv":0,"ml":0,"mh":0},
{"m":"ConvS2S","p":"0.5","e":11,"ov":0,"ol":0,"oh":0,"mv":0,"ml":0,"mh":0},
{"m":"ConvS2S","p":"0.5","e":12,"ov":0,"ol":0,"oh":0,"mv":0,"ml":0,"mh":0},
{"m":"ConvS2S","p":"0.5","e":13,"ov":0,"ol":0,"oh":0,"mv":0,"ml":0,"mh":0},
{"m":"ConvS2S","p":"0.5","e":14,"ov":0,"ol":0,"oh":0,"mv":0,"ml":0,"mh":0},
{"m":"ConvS2S","p":"0.5","e":15,"ov":0,"ol":0,"oh":0,"mv":0,"ml":0,"mh":0},
{"m":"ConvS2S","p":"0.5","e":16,"ov":0,"ol":0,"oh":0,"mv":0,"ml":0,"mh":0},
{"m":"ConvS2S","p":"0.5","e":17,"ov":0,"ol":0,"oh":0,"mv":0,"ml":0,"mh":0},
{"m":"ConvS2S","p":"0.5","e":18,"ov":0,"ol":0,"oh":0,"mv":0,"ml":0,"mh":0},
{"m":"ConvS2S","p":"0.5","e":19,"ov":0,"ol":0,"oh":0,"mv":0,"ml":0,"mh":0},
{"m":"ConvS2S","p":"0.5","e":20,"ov":0,"ol":0,"oh":0,"mv":0,"ml":0,"mh":0},
{"m":"ConvS2S","p":"0.5","e":21,"ov":0,"ol":0,"oh":0,"mv":0,"ml":0,"mh":0},
{"m":"ConvS2S","p":"0.5","e":22,"ov":0,"ol":0,"oh":0,"mv":0,"ml":0,"mh":0},
{"m":"ConvS2S","p":"0.5","e":23,"ov":0,"ol":0,"oh":0,"mv":0,"ml":0,"mh":0},
{"m":"ConvS2S","p":"0.5","e":24,"ov":0,"ol":0,"oh":0,"mv":0,"ml":0,"mh":0},
{"m":"ConvS2S","p":"0.5","e":25,"ov":0,"ol":0,"oh":0,"mv":0,"ml":0,"mh":0},
{"m":"Transformer","p":"0.5","e":0,"ov":0,"ol":0,"oh":0,"mv":1,"ml":1,"mh":1},
{"m":"Transformer","p":"0.5","e":1,"ov":0,"ol":0,"oh":0,"mv":1,"ml":1,"mh":1},
{"m":"Transformer","p":"0.5","e":2,"ov":0,"ol":0,"oh":0,"mv":1,"ml":1,"mh":1},
{"m":"Transformer","p":"0.5","e":3,"ov":0.01,"ol":0,"oh":0.02,"mv":1,"ml":1,"mh":1},
{"m":"Transformer","p":"0.5","e":4,"ov":0.03,"ol":0.01,"oh":0.07,"mv":0.99,"ml":0.98,"mh":1},
{"m":"Transformer","p":"0.5","e":5,"ov":0.05,"ol":0.02,"oh":0.1,"mv":0.92,"ml":0.9,"mh":0.93},
{"m":"Transformer","p":"0.5","e":6,"ov":0.06,"ol":0.03,"oh":0.12,"mv":0.75,"ml":0.7,"mh":0.78},
{"m":"Transformer","p":"0.5","e":7,"ov":0.05,"ol":0.03,"oh":0.13,"mv":0.57,"ml":0.5,"mh":0.65},
{"m":"Transformer","p":"0.5","e":8,"ov":0.07,"ol":0.02,"oh":0.14,"mv":0.42,"ml":0.3,"mh":0.55},
{"m":"Transformer","p":"0.5","e":9,"ov":0.06,"ol":0,"oh":0.09,"mv":0.29,"ml":0.1,"mh":0.5},
{"m":"Transformer","p":"0.5","e":10,"ov":0.05,"ol":0,"oh":0.2,"mv":0.17,"ml":0,"mh":0.47},
{"m":"Transformer","p":"0.5","e":11,"ov":0.02,"ol":0,"oh":0.04,"mv":0.11,"ml":0.02,"mh":0.12},
{"m":"Transformer","p":"0.5","e":12,"ov":0.01,"ol":0,"oh":0.02,"mv":0.06,"ml":0.02,"mh":0.12},
{"m":"Transformer","p":"0.5","e":13,"ov":0.01,"ol":0,"oh":0.01,"mv":0.02,"ml":0.01,"mh":0.16},
{"m":"Transformer","p":"0.5","e":14,"ov":0,"ol":0,"oh":0,"mv":0,"ml":0,"mh":0},
{"m":"Transformer","p":"0.5","e":15,"ov":0,"ol":0,"oh":0,"mv":0,"ml":0,"mh":0},
{"m":"Transformer","p":"0.5","e":16,"ov":0,"ol":0,"oh":0,"mv":0,"ml":0,"mh":0},
{"m":"Transformer","p":"0.5","e":17,"ov":0,"ol":0,"oh":0,"mv":0,"ml":0,"mh":0},
{"m":"Transformer","p":"0.5","e":18,"ov":0,"ol":0,"oh":0,"mv":0,"ml":0,"mh":0},
{"m":"Transformer","p":"0.5","e":19,"ov":0,"ol":0,"oh":0,"mv":0,"ml":0,"mh":0},
{"m":"Transformer","p":"0.5","e":20,"ov":0,"ol":0,"oh":0,"mv":0,"ml":0,"mh":0},
{"m":"Transformer","p":"0.5","e":21,"ov":0,"ol":0,"oh":0,"mv":0,"ml":0,"mh":0},
{"m":"Transformer","p":"0.5","e":22,"ov":0,"ol":0,"oh":0,"mv":0,"ml":0,"mh":0},
{"m":"Transformer","p":"0.5","e":23,"ov":0,"ol":0,"oh":0,"mv":0,"ml":0,"mh":0},
{"m":"Transformer","p":"0.5","e":24,"ov":0,"ol":0,"oh":0,"mv":0,"ml":0,"mh":0},
{"m":"Transformer","p":"0.5","e":25,"ov":0,"ol":0,"oh":0,"mv":0,"ml":0,"mh":0},
{"m":"LSTMS2S","p":"0.01","t":"overgeneralisation"},
{"m":"ConvS2S","p":"0.01","t":"overgeneralisation"},
{"m":"Transformer","p":"0.01","t":"overgeneralisation"},
{"m":"LSTMS2S","p":"0.05","t":"overgeneralisation"},
{"m":"ConvS2S","p":"0.05","t":"overgeneralisation"},
{"m":"Transformer","p":"0.05","t":"overgeneralisation"},
{"m":"LSTMS2S","p":"0.1","t":"overgeneralisation"},
{"m":"ConvS2S","p":"0.1","t":"overgeneralisation"},
{"m":"Transformer","p":"0.1","t":"overgeneralisation"},
{"m":"ConvS2S","p":"0.01","t":"memorisation"},
{"m":"ConvS2S","p":"0.05","t":"memorisation"},
{"m":"Transformer","p":"0.05","t":"memorisation"},
{"m":"ConvS2S","p":"0.1","t":"memorisation"},
{"m":"Transformer","p":"0.1","t":"memorisation"},
{"m":"LSTMS2S","p":"0.5","t":"memorisation"},
{"m":"ConvS2S","p":"0.5","t":"memorisation"},
{"m":"Transformer","p":"0.5","t":"memorisation"}
]},
"facet": {
  "row": {"field": "p", "type": "nominal", "title": null, "sort": ["0.01","0.05","0.1","0.5"],
    "header": {"labelAngle": 0, "labelOrient": "left", "labelAlign": "left", "labelFont": "DejaVu Serif", "labelFontSize": 24, "labelFontWeight": "normal", "labelColor": "black", "labelPadding": 40}},
  "column": {"field": "m", "type": "nominal", "title": null, "sort": ["LSTMS2S","ConvS2S","Transformer"],
    "header": {"labelFont": "DejaVu Serif", "labelFontSize": 23, "labelFontWeight": "bold", "labelColor": "black", "labelPadding": 14}}
},
"spacing": {"row": 22, "column": 51},
"spec": {
  "width": 285, "height": 143,
  "layer": [
    {"transform": [{"filter": "isValid(datum.e)"}],
     "mark": {"type": "area", "color": "#d9434f", "opacity": 0.5},
     "encoding": {
       "x": {"field": "e", "type": "quantitative", "scale": {"domain": [0, 25], "nice": false}, "title": "epoch", "axis": {"values": [0,5,10,15,20,25], "format": "d", "labelOverlap": false, "labelFlush": false}},
       "y": {"field": "ov", "type": "quantitative", "scale": {"domain": [0, 1], "nice": false}, "title": "accuracy", "axis": {"values": [0,0.25,0.5,0.75,1], "format": ".2f", "labelOverlap": false}},
       "y2": {"datum": 0}}},
    {"transform": [{"filter": "isValid(datum.e)"}],
     "mark": {"type": "area", "color": "#4a86c5", "opacity": 0.55},
     "encoding": {
       "x": {"field": "e", "type": "quantitative", "title": "epoch", "axis": {"values": [0,5,10,15,20,25], "format": "d", "labelOverlap": false, "labelFlush": false}},
       "y": {"field": "mv", "type": "quantitative", "title": "accuracy", "axis": {"values": [0,0.25,0.5,0.75,1], "format": ".2f", "labelOverlap": false}},
       "y2": {"datum": 1}}},
    {"transform": [{"filter": "isValid(datum.e)"}],
     "mark": {"type": "area", "color": "#a8303f", "opacity": 0.5},
     "encoding": {
       "x": {"field": "e", "type": "quantitative", "title": "epoch", "axis": {"values": [0,5,10,15,20,25], "format": "d", "labelOverlap": false, "labelFlush": false}},
       "y": {"field": "ol", "type": "quantitative", "title": "accuracy", "axis": {"values": [0,0.25,0.5,0.75,1], "format": ".2f", "labelOverlap": false}},
       "y2": {"field": "oh"}}},
    {"transform": [{"filter": "isValid(datum.e)"}],
     "mark": {"type": "area", "color": "#2a66aa", "opacity": 0.5},
     "encoding": {
       "x": {"field": "e", "type": "quantitative", "title": "epoch", "axis": {"values": [0,5,10,15,20,25], "format": "d", "labelOverlap": false, "labelFlush": false}},
       "y": {"field": "ml", "type": "quantitative", "title": "accuracy", "axis": {"values": [0,0.25,0.5,0.75,1], "format": ".2f", "labelOverlap": false}},
       "y2": {"field": "mh"}}},
    {"transform": [{"filter": "isValid(datum.e)"}],
     "mark": {"type": "line", "color": "#b2101e", "strokeWidth": 1.5},
     "encoding": {
       "x": {"field": "e", "type": "quantitative", "title": "epoch", "axis": {"values": [0,5,10,15,20,25], "format": "d", "labelOverlap": false, "labelFlush": false}},
       "y": {"field": "ov", "type": "quantitative", "title": "accuracy", "axis": {"values": [0,0.25,0.5,0.75,1], "format": ".2f", "labelOverlap": false}}}},
    {"transform": [{"filter": "isValid(datum.e)"}],
     "mark": {"type": "line", "color": "#1d5ba6", "strokeWidth": 1.5},
     "encoding": {
       "x": {"field": "e", "type": "quantitative", "title": "epoch", "axis": {"values": [0,5,10,15,20,25], "format": "d", "labelOverlap": false, "labelFlush": false}},
       "y": {"field": "mv", "type": "quantitative", "title": "accuracy", "axis": {"values": [0,0.25,0.5,0.75,1], "format": ".2f", "labelOverlap": false}}}},
    {"transform": [{"filter": "datum.t == 'overgeneralisation'"}],
     "mark": {"type": "text", "align": "left", "baseline": "middle", "font": "DejaVu Sans", "fontSize": 16, "color": "black"},
     "encoding": {
       "x": {"datum": 0.4, "type": "quantitative", "title": "epoch", "axis": {"values": [0,5,10,15,20,25], "format": "d", "labelOverlap": false, "labelFlush": false}},
       "y": {"datum": 0.1, "type": "quantitative", "title": "accuracy", "axis": {"values": [0,0.25,0.5,0.75,1], "format": ".2f", "labelOverlap": false}},
       "text": {"field": "t"}}},
    {"transform": [{"filter": "datum.t == 'memorisation'"}],
     "mark": {"type": "text", "align": "right", "baseline": "middle", "font": "DejaVu Sans", "fontSize": 16, "color": "black"},
     "encoding": {
       "x": {"datum": 24.6, "type": "quantitative", "title": "epoch", "axis": {"values": [0,5,10,15,20,25], "format": "d", "labelOverlap": false, "labelFlush": false}},
       "y": {"datum": 0.83, "type": "quantitative", "title": "accuracy", "axis": {"values": [0,0.25,0.5,0.75,1], "format": ".2f", "labelOverlap": false}},
       "text": {"field": "t"}}}
  ]
},
"config": {
  "view": {"fill": "#dfe0e6", "stroke": null},
  "headerRow": {"labelAlign": "left"},
  "axis": {"domain": false, "ticks": false, "grid": false, "labelFont": "DejaVu Sans", "labelFontSize": 14, "labelColor": "#262626", "titleFont": "DejaVu Sans", "titleFontSize": 16, "titleFontWeight": "normal", "titleColor": "#262626", "labelPadding": 6, "titlePadding": 6},
  "axisX": {"labelFontSize": 16, "labelPadding": 3, "titlePadding": 0}
}
}
